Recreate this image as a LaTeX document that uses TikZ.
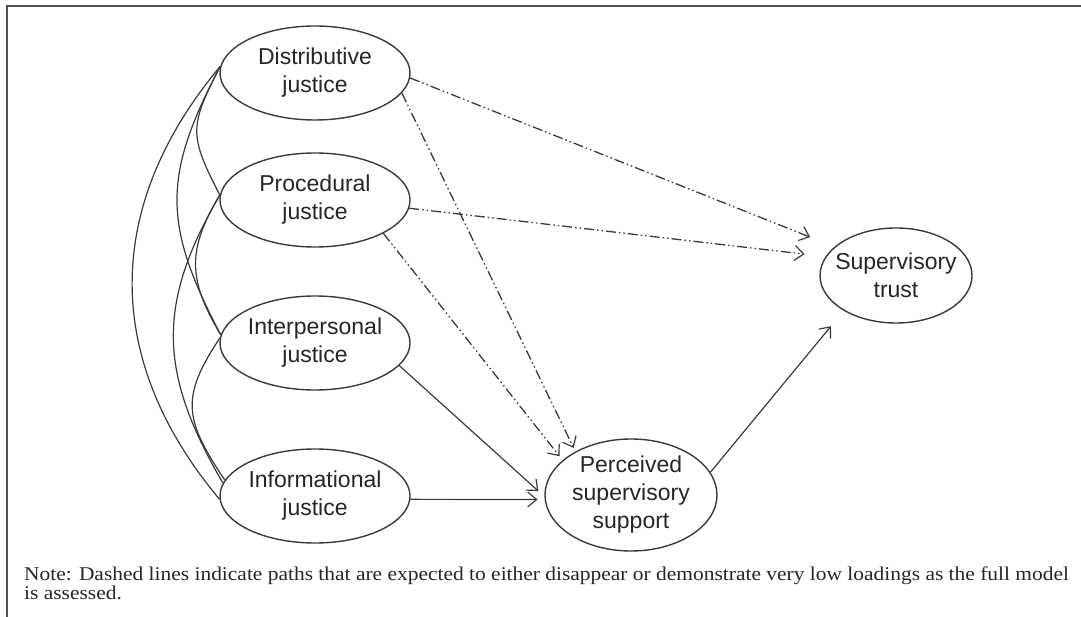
\documentclass[tikz,border=0pt]{standalone}
\usepackage{fontspec}
\setmainfont{Liberation Serif}
\newfontfamily\labelfont{Liberation Sans}
\newfontfamily\notefont[FakeStretch=1.1]{Liberation Serif}
\usetikzlibrary{shapes.geometric,arrows.meta}
\definecolor{ink}{HTML}{3A3A3A}
\definecolor{framecol}{HTML}{505050}
\begin{document}
\begin{tikzpicture}[x=1pt,y=-1pt,
  construct/.style={ellipse,draw=ink,line width=1.4pt,inner sep=-8pt,
    minimum width=190pt,minimum height=94pt,align=center,text=black!85,
    font=\labelfont\fontsize{23}{28}\selectfont},
  effect/.style={ink,line width=1.2pt,
    -{Straight Barb[length=9pt,width=15pt,line width=1.2pt]}},
  weakeffect/.style={effect,line width=1.3pt,
    dash pattern=on 10pt off 3pt on 1.5pt off 3pt on 1.5pt off 3pt},
  covary/.style={ink,line width=1.2pt}]
\useasboundingbox (0,0) rectangle (1081,617);

% frame (top and left rules)
\draw[framecol,line width=1.5pt] (1081,6) -- (7,6) -- (7,617);

% constructs
\node[construct] (dist)  at (315,73)  {Distributive\\justice};
\node[construct] (proc)  at (315,200) {Procedural\\justice};
\node[construct] (inter) at (315,343) {Interpersonal\\justice};
\node[construct] (info)  at (315,496) {Informational\\justice};
\node[construct,minimum width=172pt,minimum height=112pt] (pss) at (631,495)
  {Perceived\\supervisory\\support};
\node[construct,minimum width=152pt,minimum height=95pt] (trust) at (896,275.5)
  {Supervisory\\trust};

% correlations among the justice dimensions
\draw[covary] (dist.176)  .. controls +(-31,60)   and +(-31,-60)   .. (proc.177);
\draw[covary] (dist.176)  .. controls +(-58,110)  and +(-58,-110)  .. (inter.175);
\draw[covary] (dist.176)  .. controls +(-117,140) and +(-117,-140) .. (info.182);
\draw[covary] (proc.177)  .. controls +(-33,55)   and +(-33,-55)   .. (inter.175);
\draw[covary] (proc.177)  .. controls +(-64,110)  and +(-64,-110)  .. (info.172);
\draw[covary] (inter.177) .. controls +(-40,60)   and +(-40,-60)   .. (info.170);

% expected weak paths
\draw[weakeffect,shorten >=26pt] (dist.-3)  -- (trust.155);
\draw[weakeffect,shorten >=21pt] (proc.-5)  -- (trust.165);
\draw[weakeffect,shorten >=4pt]  (dist.-13) -- (pss.142);
\draw[weakeffect,shorten >=5pt]  (proc.-26) -- (pss.153);

% hypothesised paths
\draw[effect,shorten >=8pt] (inter.-15) -- (pss.181);
\draw[effect,shorten >=7pt] (info.-2)   -- (pss.183);
\draw[effect,shorten >=20pt] (pss.16)   -- (trust.214);

% note
\node[anchor=north west,inner sep=0pt,align=left,text=black!85,
  font=\notefont\fontsize{19.5}{19.5}\selectfont] (note) at (24,566.5)
  {Note: Dashed lines indicate paths that are expected to either disappear or demonstrate very low loadings as the full model\\is assessed.};
\end{tikzpicture}
\end{document}
